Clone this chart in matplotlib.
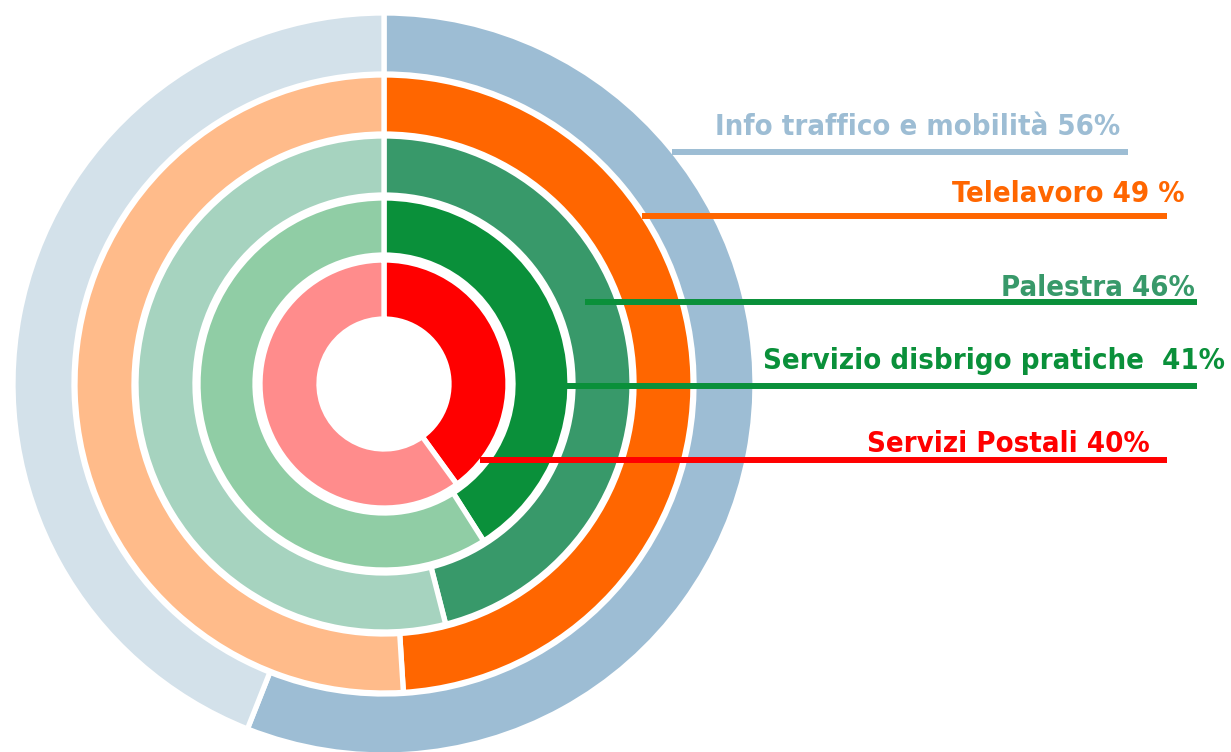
import matplotlib.pyplot as plt

# ring data, outer ring first
labels = ['Info traffico e mobilità 56%', 'Telelavoro 49 %', 'Palestra 46%',
          'Servizio disbrigo pratiche  41%', 'Servizi Postali 40%']
values = [56, 49, 46, 41, 40]

dark = ['#9dbdd4', '#ff6600', '#38996a', '#0a903a', '#ff0000']
light = ['#d3e1ea', '#ffbb8a', '#a6d3bf', '#90cda5', '#ff8c8c']
text_col = ['#9dbdd4', '#ff6600', '#38996a', '#0a903a', '#ff0000']
line_col = ['#9dbdd4', '#ff6600', '#0a903a', '#0a903a', '#ff0000']

W, H = 1231, 752
cx, cy = 384, H - 384
radius = [371, 309, 248, 186, 124]
width = [61, 59, 59, 57, 59]

# label layout in image pixels: text right edge, text baseline, line start, line end, line y
txt_x = [1120, 1185, 1195, 1225, 1150]
txt_y = [135, 202, 296, 369, 452]
ln_x0 = [672, 642, 585, 565, 480]
ln_x1 = [1128, 1167, 1197, 1197, 1167]
ln_y = [152, 216, 302, 386, 460]

fig = plt.figure(figsize=(W / 100, H / 100), dpi=100)
ax = fig.add_axes([0, 0, 1, 1])

for i in range(len(values)):
    ax.pie([values[i], 100 - values[i]], radius=radius[i], center=(cx, cy),
           startangle=90, counterclock=False, colors=[dark[i], light[i]],
           wedgeprops=dict(width=width[i], edgecolor='white', linewidth=3.8))

for i in range(len(labels)):
    ax.plot([ln_x0[i], ln_x1[i]], [H - ln_y[i], H - ln_y[i]], color=line_col[i],
            lw=4.3, solid_capstyle='butt')
    ax.text(txt_x[i], H - txt_y[i], labels[i], color=text_col[i], ha='right',
            va='baseline', fontsize=21, fontweight='bold',
            family='DejaVu Sans', fontstretch='condensed')

ax.set_xlim(0, W)
ax.set_ylim(0, H)
ax.set_aspect('equal')
ax.axis('off')

fig.savefig('out.png', dpi=100, facecolor='white')
